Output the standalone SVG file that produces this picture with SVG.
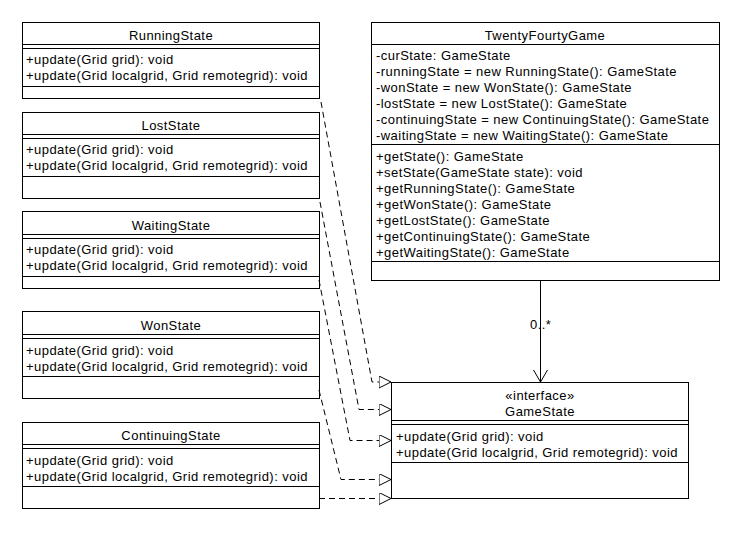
<svg xmlns="http://www.w3.org/2000/svg" width="740" height="540" viewBox="0 0 740 540">
<defs>
<style>
text{font-family:"Liberation Sans",Arial,sans-serif;font-size:13px;letter-spacing:0.45px;fill:#000}
.c{text-anchor:middle}
.b{fill:#fff;stroke:#000;stroke-width:1}
.l{stroke:#000;stroke-width:1;fill:none}
.d{stroke:#000;stroke-width:1;fill:none;stroke-dasharray:6,4}
</style>
<marker id="tri" markerWidth="14" markerHeight="14" refX="12" refY="6" orient="auto" markerUnits="userSpaceOnUse">
<path d="M0,0 L12,6 L0,12 Z" fill="#fff" stroke="#000" stroke-width="1"/>
</marker>
<marker id="open" markerWidth="16" markerHeight="16" refX="8" refY="12" orient="0" markerUnits="userSpaceOnUse">
<path d="M1,0 L8,12 L15,0" fill="none" stroke="#000" stroke-width="1"/>
</marker>
</defs>
<rect width="740" height="540" fill="#fff"/>

<g id="RunningState">
<rect class="b" x="22.5" y="22.5" width="297" height="76"/>
<line class="l" x1="22.5" y1="44.5" x2="319.5" y2="44.5"/>
<line class="l" x1="22.5" y1="48.5" x2="319.5" y2="48.5"/>
<line class="l" x1="22.5" y1="86.5" x2="319.5" y2="86.5"/>
<text class="c" x="171" y="40">RunningState</text>
<text x="26" y="64">+update(Grid grid): void</text>
<text x="26" y="80">+update(Grid localgrid, Grid remotegrid): void</text>
</g>

<g id="LostState">
<rect class="b" x="22.5" y="112.5" width="297" height="86"/>
<line class="l" x1="22.5" y1="134.5" x2="319.5" y2="134.5"/>
<line class="l" x1="22.5" y1="138.5" x2="319.5" y2="138.5"/>
<line class="l" x1="22.5" y1="176.5" x2="319.5" y2="176.5"/>
<text class="c" x="171" y="130">LostState</text>
<text x="26" y="154">+update(Grid grid): void</text>
<text x="26" y="170">+update(Grid localgrid, Grid remotegrid): void</text>
</g>

<g id="WaitingState">
<rect class="b" x="22.5" y="211.5" width="297" height="77"/>
<line class="l" x1="22.5" y1="234.5" x2="319.5" y2="234.5"/>
<line class="l" x1="22.5" y1="238.5" x2="319.5" y2="238.5"/>
<line class="l" x1="22.5" y1="276.5" x2="319.5" y2="276.5"/>
<text class="c" x="171" y="230">WaitingState</text>
<text x="26" y="254">+update(Grid grid): void</text>
<text x="26" y="270">+update(Grid localgrid, Grid remotegrid): void</text>
</g>

<g id="WonState">
<rect class="b" x="22.5" y="311.5" width="297" height="87"/>
<line class="l" x1="22.5" y1="334.5" x2="319.5" y2="334.5"/>
<line class="l" x1="22.5" y1="338.5" x2="319.5" y2="338.5"/>
<line class="l" x1="22.5" y1="376.5" x2="319.5" y2="376.5"/>
<text class="c" x="171" y="330">WonState</text>
<text x="26" y="355">+update(Grid grid): void</text>
<text x="26" y="371">+update(Grid localgrid, Grid remotegrid): void</text>
</g>

<g id="ContinuingState">
<rect class="b" x="22.5" y="422.5" width="297" height="86"/>
<line class="l" x1="22.5" y1="444.5" x2="319.5" y2="444.5"/>
<line class="l" x1="22.5" y1="448.5" x2="319.5" y2="448.5"/>
<line class="l" x1="22.5" y1="486.5" x2="319.5" y2="486.5"/>
<text class="c" x="171" y="440">ContinuingState</text>
<text x="26" y="465">+update(Grid grid): void</text>
<text x="26" y="481">+update(Grid localgrid, Grid remotegrid): void</text>
</g>

<g id="TwentyFourtyGame">
<rect class="b" x="371.5" y="22.5" width="348" height="258"/>
<line class="l" x1="371.5" y1="44.5" x2="719.5" y2="44.5"/>
<line class="l" x1="371.5" y1="144.5" x2="719.5" y2="144.5"/>
<line class="l" x1="371.5" y1="261.5" x2="719.5" y2="261.5"/>
<text class="c" x="545" y="40">TwentyFourtyGame</text>
<text x="376" y="60">-curState: GameState</text>
<text x="376" y="76">-runningState = new RunningState(): GameState</text>
<text x="376" y="92">-wonState = new WonState(): GameState</text>
<text x="376" y="108">-lostState = new LostState(): GameState</text>
<text x="376" y="124">-continuingState = new ContinuingState(): GameState</text>
<text x="376" y="140">-waitingState = new WaitingState(): GameState</text>
<text x="376" y="161">+getState(): GameState</text>
<text x="376" y="177">+setState(GameState state): void</text>
<text x="376" y="193">+getRunningState(): GameState</text>
<text x="376" y="209">+getWonState(): GameState</text>
<text x="376" y="225">+getLostState(): GameState</text>
<text x="376" y="241">+getContinuingState(): GameState</text>
<text x="376" y="257">+getWaitingState(): GameState</text>
</g>

<g id="GameState">
<rect class="b" x="391.5" y="382.5" width="297" height="116"/>
<line class="l" x1="391.5" y1="420.5" x2="688.5" y2="420.5"/>
<line class="l" x1="391.5" y1="424.5" x2="688.5" y2="424.5"/>
<line class="l" x1="391.5" y1="462.5" x2="688.5" y2="462.5"/>
<text class="c" x="540" y="400">«interface»</text>
<text class="c" x="540" y="416">GameState</text>
<text x="396" y="441">+update(Grid grid): void</text>
<text x="396" y="457">+update(Grid localgrid, Grid remotegrid): void</text>
</g>

<g id="connectors">
<polyline class="d" points="321,102 372,382 391,382" marker-end="url(#tri)"/>
<polyline class="d" points="320,202 359,409.5 391,409.5" marker-end="url(#tri)"/>
<polyline class="d" points="319,280 350,440.5 391,440.5" marker-end="url(#tri)"/>
<polyline class="d" points="319,390 341,479.5 391,479.5" marker-end="url(#tri)"/>
<polyline class="d" points="319,498.5 391,498.5" marker-end="url(#tri)"/>
<line class="l" x1="540.5" y1="281" x2="540.5" y2="382" marker-end="url(#open)"/>
<text x="530" y="329">0..*</text>
</g>
</svg>
